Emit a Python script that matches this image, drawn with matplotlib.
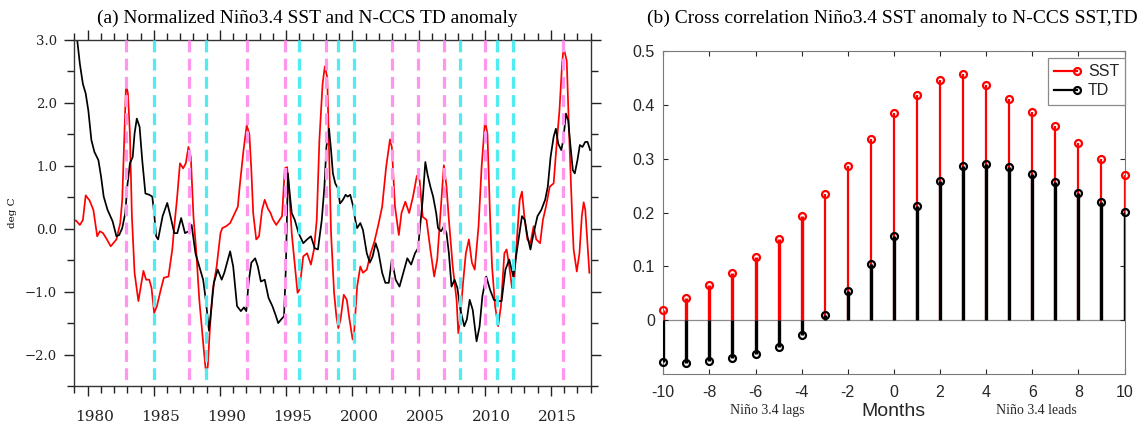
import matplotlib
matplotlib.use("Agg")
import matplotlib.pyplot as plt
import matplotlib.transforms as mtransforms
from matplotlib.lines import Line2D
from matplotlib.legend_handler import HandlerBase
from matplotlib.ticker import MultipleLocator, FixedLocator

# ---------------- data: panel (a) ----------------
sst_years = [1979.00, 1979.13, 1979.42, 1979.65, 1979.86, 1980.15, 1980.44, 1980.73, 1980.93, 1981.17,
             1981.46, 1981.75, 1981.95, 1982.18, 1982.47, 1982.62, 1982.78, 1982.91, 1983.05, 1983.20,
             1983.35, 1983.55, 1983.84, 1984.22, 1984.42, 1984.66, 1984.83, 1985.03, 1985.24, 1985.53,
             1985.76, 1986.11, 1986.40, 1986.55, 1986.75, 1986.98, 1987.22, 1987.42, 1987.62, 1987.80,
             1988.00, 1988.20, 1988.44, 1988.67, 1988.87, 1988.96, 1989.08, 1989.25, 1989.46, 1989.75,
             1990.04, 1990.18, 1990.47, 1990.77, 1991.06, 1991.35, 1991.49, 1991.78, 1992.02, 1992.22,
             1992.36, 1992.51, 1992.74, 1992.95, 1993.18, 1993.38, 1993.62, 1993.82, 1994.00, 1994.25,
             1994.69, 1994.90, 1995.07, 1995.27, 1995.42, 1995.71, 1995.86, 1996.00, 1996.29, 1996.58,
             1996.87, 1997.10, 1997.31, 1997.51, 1997.75, 1997.92, 1998.10, 1998.24, 1998.39, 1998.62,
             1998.79, 1998.94, 1999.11, 1999.35, 1999.58, 1999.78, 2000.02, 2000.13, 2000.36, 2000.60,
             2000.80, 2001.09, 2001.38, 2001.67, 2001.96, 2002.25, 2002.55, 2002.84, 2002.98, 2003.22,
             2003.51, 2003.71, 2004.00, 2004.29, 2004.58, 2004.87, 2005.08, 2005.31, 2005.60, 2005.89,
             2006.18, 2006.41, 2006.62, 2006.91, 2007.11, 2007.29, 2007.58, 2007.87, 2008.00, 2008.15,
             2008.36, 2008.57, 2008.80, 2009.03, 2009.24, 2009.53, 2009.76, 2010.02, 2010.20, 2010.40,
             2010.55, 2010.78, 2011.01, 2011.22, 2011.48, 2011.65, 2011.85, 2012.06, 2012.23, 2012.44,
             2012.64, 2012.81, 2012.99, 2013.22, 2013.45, 2013.69, 2013.89, 2014.18, 2014.39, 2014.62,
             2014.91, 2015.20, 2015.43, 2015.64, 2015.84, 2015.95, 2016.19, 2016.37, 2016.60, 2016.71,
             2016.95, 2017.15, 2017.33, 2017.47, 2017.59, 2017.82, 2017.90]
sst_norm = [0.13, 0.13, 0.06, 0.14, 0.53, 0.45, 0.30, -0.12, -0.04, -0.07,
            -0.17, -0.28, -0.23, -0.17, 0.09, 0.46, 1.50, 2.30, 2.15, 1.51,
            0.20, -0.70, -1.15, -0.67, -0.81, -0.81, -0.94, -1.34, -1.23, -0.97,
            -0.78, -0.76, -0.33, 0.04, 0.46, 1.04, 0.96, 1.04, 1.30, 1.14,
            0.19, -0.33, -1.13, -1.66, -2.13, -2.30, -2.19, -1.55, -0.97, -0.60,
            -0.07, 0.01, 0.04, 0.09, 0.22, 0.35, 0.67, 1.25, 1.64, 1.51,
            0.98, 0.25, -0.17, -0.12, 0.30, 0.46, 0.32, 0.25, 0.15, 0.06,
            0.20, 0.96, 0.98, 0.46, -0.07, -0.70, -1.02, -0.97, -0.44, -0.39,
            -0.57, -0.33, 0.14, 1.41, 2.30, 2.58, 2.41, 1.25, -0.07, -1.02,
            -1.39, -1.58, -1.44, -1.05, -1.13, -1.44, -1.76, -1.66, -0.92, -0.60,
            -0.70, -0.65, -0.39, -0.20, 0.06, 0.35, 0.98, 1.42, 1.30, 0.35,
            -0.10, 0.25, 0.43, 0.25, 0.51, 0.84, 0.77, 0.19, 0.14, -0.33,
            -0.76, -0.49, 0.14, 1.01, 0.67, 0.14, -0.60, -1.13, -1.66, -1.40,
            -0.86, -0.39, -0.17, -0.54, -0.65, 0.04, 0.98, 1.72, 1.51, 0.19,
            -0.60, -1.23, -1.55, -1.23, -0.39, -0.33, -0.60, -0.94, -0.81, -0.12,
            0.46, 0.59, 0.19, -0.17, -0.23, 0.04, -0.17, -0.23, 0.14, 0.35,
            0.67, 0.72, 1.35, 1.88, 2.62, 2.88, 2.67, 1.51, 0.19, -0.33,
            -0.68, -0.39, 0.20, 0.42, 0.30, -0.44, -0.70]

td_years = [1979.00, 1979.22, 1979.42, 1979.65, 1979.86, 1980.06, 1980.29, 1980.52, 1980.82, 1981.02,
            1981.22, 1981.51, 1981.89, 1982.18, 1982.39, 1982.62, 1982.85, 1983.00, 1983.20, 1983.41,
            1983.55, 1983.72, 1983.93, 1984.13, 1984.37, 1984.66, 1984.89, 1985.03, 1985.18, 1985.33,
            1985.67, 1986.02, 1986.26, 1986.55, 1986.78, 1987.07, 1987.36, 1987.65, 1987.86, 1988.15,
            1988.44, 1988.73, 1988.93, 1989.17, 1989.31, 1989.54, 1989.83, 1990.13, 1990.33, 1990.77,
            1991.00, 1991.29, 1991.58, 1991.81, 1991.99, 1992.16, 1992.37, 1992.66, 1992.86, 1993.09,
            1993.38, 1993.67, 1993.96, 1994.20, 1994.40, 1994.63, 1994.84, 1994.98, 1995.13, 1995.27,
            1995.42, 1995.65, 1995.94, 1996.29, 1996.58, 1996.87, 1997.16, 1997.40, 1997.69, 1997.89,
            1998.04, 1998.24, 1998.39, 1998.53, 1998.71, 1998.91, 1999.06, 1999.29, 1999.49, 1999.64,
            1999.84, 2000.07, 2000.22, 2000.36, 2000.60, 2000.80, 2001.09, 2001.32, 2001.53, 2001.76,
            2001.96, 2002.25, 2002.49, 2002.75, 2002.98, 2003.27, 2003.56, 2003.85, 2004.15, 2004.44,
            2004.73, 2004.96, 2005.16, 2005.31, 2005.51, 2005.69, 2005.89, 2006.10, 2006.33, 2006.47,
            2006.70, 2006.91, 2007.11, 2007.29, 2007.49, 2007.72, 2007.93, 2008.16, 2008.45, 2008.65,
            2008.86, 2009.09, 2009.38, 2009.61, 2009.82, 2010.11, 2010.40, 2010.69, 2010.98, 2011.27,
            2011.56, 2011.85, 2012.15, 2012.44, 2012.81, 2013.02, 2013.22, 2013.45, 2013.69, 2013.98,
            2014.27, 2014.56, 2014.76, 2014.97, 2015.20, 2015.37, 2015.55, 2015.78, 2015.93, 2016.13,
            2016.30, 2016.48, 2016.65, 2016.80, 2017.00, 2017.18, 2017.38, 2017.59, 2017.76, 2017.96]
td_anom = [3.45, 3.00, 2.62, 2.30, 2.15, 1.88, 1.41, 1.22, 1.09, 0.83,
           0.51, 0.30, 0.12, -0.12, -0.10, 0.01, 0.25, 0.67, 1.04, 1.14,
           1.51, 1.75, 1.62, 1.09, 0.56, 0.54, 0.51, 0.25, -0.12, -0.17,
           0.20, 0.41, 0.20, -0.07, -0.07, 0.17, -0.07, -0.04, 0.06, -0.39,
           -0.60, -0.81, -1.13, -1.62, -1.34, -0.86, -0.65, -0.81, -0.70, -0.36,
           -0.60, -1.23, -1.31, -1.25, -1.31, -0.86, -0.54, -0.47, -0.60, -0.84,
           -0.81, -1.10, -1.23, -1.37, -1.50, -1.44, -1.39, -0.60, 0.88, 0.56,
           0.25, 0.14, -0.07, -0.23, -0.17, -0.12, -0.31, -0.33, 0.14, 0.67,
           1.30, 1.59, 1.25, 0.88, 0.72, 0.64, 0.40, 0.46, 0.54, 0.51,
           0.54, 0.35, 0.14, 0.01, 0.09, -0.02, -0.39, -0.54, -0.44, -0.23,
           -0.36, -0.70, -0.86, -0.86, -0.49, -0.81, -0.92, -0.70, -0.47, -0.57,
           -0.39, -0.31, 0.14, 0.46, 1.06, 0.85, 0.67, 0.51, 0.25, 0.01,
           -0.04, 0.04, -0.07, -0.39, -0.92, -0.81, -0.94, -1.29, -1.55, -1.44,
           -1.13, -1.29, -1.79, -1.55, -1.07, -0.76, -0.97, -1.13, -1.15, -1.15,
           -0.65, -0.49, -0.76, -0.33, 0.20, 0.14, -0.12, -0.33, -0.07, 0.20,
           0.30, 0.46, 0.67, 1.14, 1.46, 1.59, 1.35, 1.25, 1.41, 1.83,
           1.72, 1.30, 0.93, 0.88, 1.09, 1.33, 1.30, 1.38, 1.38, 1.25]

elnino_years = [1982.90, 1987.70, 1992.05, 1994.95, 1998.02, 2003.02, 2004.95, 2006.95, 2010.05, 2015.88]
lanina_years = [1985.00, 1988.92, 1996.00, 1998.90, 2000.13, 2008.15, 2010.90, 2012.10]

year_ticks = [1980, 1985, 1990, 1995, 2000, 2005, 2010, 2015]
a_yticks = [-2.0, -1.0, 0.0, 1.0, 2.0, 3.0]
a_yticklabels = ["\u22122.0", "\u22121.0", "0.0", "1.0", "2.0", "3.0"]

# ---------------- data: panel (b) ----------------
lags = [-10, -9, -8, -7, -6, -5, -4, -3, -2, -1, 0, 1, 2, 3, 4, 5, 6, 7, 8, 9, 10]
xcorr_sst = [0.018, 0.042, 0.066, 0.087, 0.117, 0.150, 0.193, 0.235, 0.287, 0.337, 0.384, 0.419,
             0.447, 0.457, 0.437, 0.411, 0.387, 0.360, 0.330, 0.299, 0.270]
xcorr_td = [-0.078, -0.080, -0.076, -0.071, -0.063, -0.050, -0.028, 0.010, 0.054, 0.104, 0.156, 0.212,
            0.259, 0.286, 0.291, 0.284, 0.271, 0.256, 0.236, 0.219, 0.201]
lag_ticks = [-10, -8, -6, -4, -2, 0, 2, 4, 6, 8, 10]
b_yticks = [0, 0.1, 0.2, 0.3, 0.4, 0.5]
b_yticklabels = ["0", "0.1", "0.2", "0.3", "0.4", "0.5"]

# ---------------- figure ----------------
W, H = 1141, 423
fig = plt.figure(figsize=(W / 100, H / 100), dpi=100)

SERIF = ["DejaVu Serif"]
TIMES = ["Liberation Serif", "DejaVu Serif"]
SANS = ["Liberation Sans", "DejaVu Sans"]
MAG = "#FF96EE"
CYA = "#50ECF2"
DARK = "#262626"

# ---------- panel (a) ----------
axL = fig.add_axes([74.3 / W, 1 - 386 / H, (590.7 - 74.3) / W, (386 - 40) / H])
axL.plot(sst_years, sst_norm, color="#FF0000", lw=1.25, zorder=2)
axL.plot(td_years, td_anom, color="black", lw=1.25, zorder=2)
for yr in elnino_years:
    axL.plot([yr, yr], [3.0, -2.42], color=MAG, lw=2.3, ls=(0, (3.7, 2.0)), zorder=3)
for yr in lanina_years:
    axL.plot([yr, yr], [3.0, -2.42], color=CYA, lw=2.3, ls=(0, (3.7, 2.0)), zorder=3)

axL.set_xlim(1979, 2018)
axL.set_ylim(-2.5, 3.0)
axL.xaxis.set_major_locator(FixedLocator(year_ticks))
axL.xaxis.set_minor_locator(MultipleLocator(1))
axL.set_xticklabels([str(y) for y in year_ticks], family=SERIF, fontsize=11, color="#222222")
axL.yaxis.set_major_locator(FixedLocator(a_yticks))
axL.yaxis.set_minor_locator(MultipleLocator(0.5))
axL.set_yticklabels(a_yticklabels, family=SERIF, fontsize=9.5, color="#222222")
axL.tick_params(which="both", direction="out", top=True, right=True, color="#222222", width=1.0)
axL.tick_params(which="major", length=7.5)
axL.tick_params(which="minor", length=5)
axL.tick_params(axis="x", which="major", pad=9.5)
axL.tick_params(axis="y", which="major", pad=5)
for sp in axL.spines.values():
    sp.set_color("#333333")
    sp.set_linewidth(1.0)
axL.set_ylabel("deg C", family=SERIF, fontsize=7.5)
axL.yaxis.set_label_coords(-0.111, 0.5)

# ---------- panel (b) ----------
axR = fig.add_axes([663.3 / W, 1 - 374 / H, (1124.5 - 663.3) / W, (374 - 51) / H])
axR.axhline(0, color="#8c8c8c", lw=0.9, zorder=1)

sst_c = axR.stem(lags, xcorr_sst, linefmt="-", markerfmt="o", basefmt=" ")
sst_c.stemlines.set_color("#FF0000")
sst_c.stemlines.set_linewidth([2.4 if td < 0 else 1.6 for td in xcorr_td])
sst_c.stemlines.set_zorder(2)
sst_c.markerline.set(color="#FF0000", markerfacecolor="none", markeredgewidth=1.6,
                     markersize=5.0, zorder=3, clip_on=False)

td_c = axR.stem(lags, xcorr_td, linefmt="-", markerfmt="o", basefmt=" ")
td_c.stemlines.set_color("black")
td_c.stemlines.set_linewidth(2.4)
td_c.stemlines.set_zorder(4)
td_c.markerline.set(color="black", markerfacecolor="none", markeredgewidth=1.6,
                    markersize=5.0, zorder=5, clip_on=False)

axR.set_xlim(-10, 10)
axR.set_ylim(-0.1, 0.5)
axR.xaxis.set_major_locator(FixedLocator(lag_ticks))
axR.set_xticklabels([str(v) for v in lag_ticks], family=SANS, fontsize=11.5, color=DARK)
axR.yaxis.set_major_locator(FixedLocator(b_yticks))
axR.set_yticklabels(b_yticklabels, family=SANS, fontsize=11.5, color=DARK)
axR.tick_params(direction="in", top=True, right=True, length=3.5, width=0.8, color=DARK)
axR.tick_params(axis="x", pad=8)
axR.tick_params(axis="y", pad=6)
for sp in axR.spines.values():
    sp.set_color("#7a7a7a")
    sp.set_linewidth(0.8)

axR.text(0.5, -0.115, "Months", transform=axR.transAxes, ha="center", va="center",
         family=SANS, fontsize=14, color=DARK)
xtr = mtransforms.blended_transform_factory(axR.transData, axR.transAxes)
axR.text(-5.5, -0.113, "Ni\u00f1o 3.4 lags", transform=xtr, ha="center", va="center",
         family=TIMES, fontsize=10, color=DARK)
axR.text(6.2, -0.113, "Ni\u00f1o 3.4 leads", transform=xtr, ha="center", va="center",
         family=TIMES, fontsize=10, color=DARK)


class StemLegendHandler(HandlerBase):
    def create_artists(self, legend, orig_handle, xdescent, ydescent, width, height, fontsize, trans):
        y = (height - ydescent) / 2.0
        x0, x1 = -xdescent, width - xdescent
        ln = Line2D([x0, x1], [y, y], color=orig_handle.get_color(), lw=orig_handle.get_linewidth())
        mk = Line2D([x1], [y], ls="none", marker="o", markersize=orig_handle.get_markersize(),
                    markeredgecolor=orig_handle.get_color(), markerfacecolor="none",
                    markeredgewidth=orig_handle.get_markeredgewidth())
        ln.set_transform(trans)
        mk.set_transform(trans)
        return [ln, mk]


h_sst = Line2D([], [], color="#FF0000", lw=1.6, marker="o", markersize=5.0, markeredgewidth=1.6)
h_td = Line2D([], [], color="black", lw=1.6, marker="o", markersize=5.0, markeredgewidth=1.6)
leg = axR.legend([h_sst, h_td], ["SST", "TD"], handler_map={Line2D: StemLegendHandler()},
                 loc="upper right", bbox_to_anchor=(1.002, 0.978), borderaxespad=0,
                 fancybox=False, framealpha=1, edgecolor="#8a8a8a",
                 prop={"family": SANS, "size": 11.5}, handlelength=1.4, handletextpad=0.7,
                 labelspacing=0.25, borderpad=0.4)
leg.get_frame().set_linewidth(0.9)
for t in leg.get_texts():
    t.set_color(DARK)

# ---------- titles (fit to measured widths) ----------
tA = fig.text(307 / W, 1 - 18 / H, "(a) Normalized Ni\u00f1o3.4 SST and N-CCS TD anomaly",
              ha="center", va="center", family=TIMES, fontsize=14)
tB = fig.text(892 / W, 1 - 18 / H, "(b) Cross correlation Ni\u00f1o3.4 SST anomaly to N-CCS SST,TD",
              ha="center", va="center", family=TIMES, fontsize=14)
fig.canvas.draw()
rend = fig.canvas.get_renderer()
for t, target in ((tA, 422.0), (tB, 492.0)):
    w = t.get_window_extent(rend).width
    t.set_fontsize(t.get_fontsize() * target / w)

# shift panel (a) year labels slightly right as in the reference
off = mtransforms.ScaledTranslation(6.7 / 100, 0, fig.dpi_scale_trans)
for lbl in axL.get_xticklabels():
    lbl.set_transform(lbl.get_transform() + off)

fig.savefig("out.png", dpi=100)
